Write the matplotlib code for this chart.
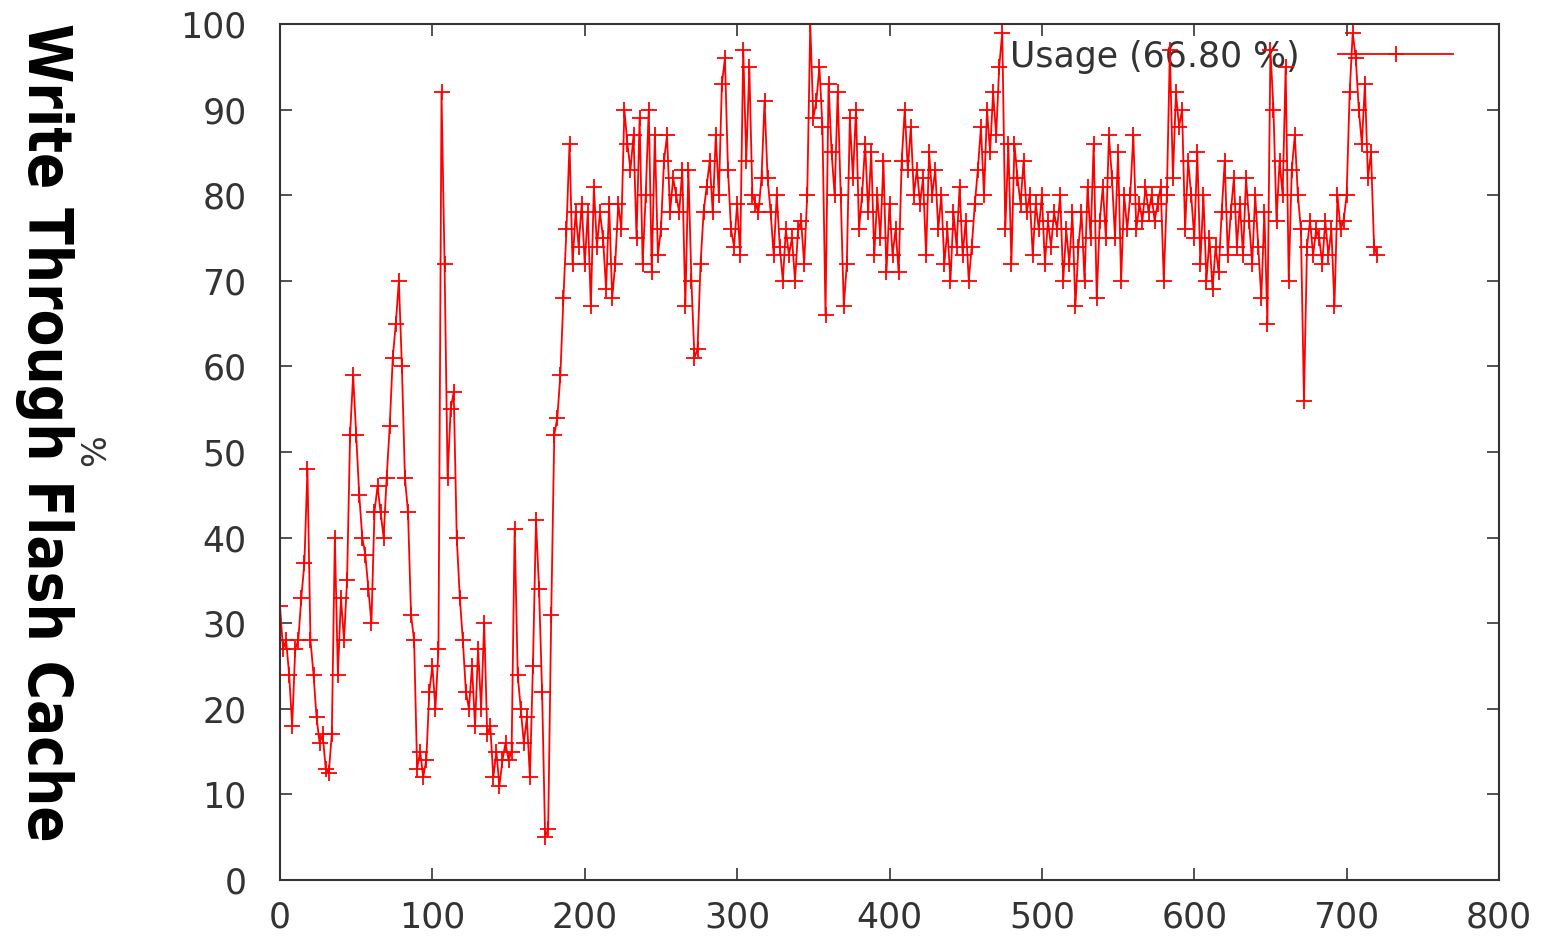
import matplotlib
matplotlib.use('Agg')
import matplotlib.pyplot as plt
import numpy as np

# usage samples every 2 time units
usage = [
    32, 27, 28, 24, 18, 27, 28, 33, 37, 48,      # 0
    28, 24, 19, 16, 17, 13, 12.5, 17, 40, 24,    # 20
    33, 28, 35, 52, 59, 52, 45, 40, 38, 34,      # 40
    30, 43, 46, 43, 40, 47, 53, 61, 65, 70,      # 60
    60, 47, 43, 31, 28, 13, 15, 12, 14, 22,      # 80
    25, 20, 27, 92, 72, 47, 55, 57, 40, 33,      # 100
    28, 22, 20, 25, 18, 27, 20, 30, 17, 18,      # 120
    12, 15, 11, 14, 16, 14, 15, 41, 24, 20,      # 140
    16, 19, 12, 25, 42, 34, 22, 5, 6, 31,        # 160
    52, 54, 59, 68, 76, 86, 72, 78, 74, 79,      # 180
    72, 78, 67, 81, 74, 78, 75, 69, 79, 68,      # 200
    72, 79, 76, 90, 86, 83, 87, 75, 89, 72,      # 220
    80, 90, 71, 87, 73, 76, 84, 87, 78, 82,      # 240
    80, 78, 83, 67, 83, 70, 61, 62, 72, 78,      # 260
    81, 84, 78, 87, 80, 93, 96, 83, 76, 74,      # 280
    79, 73, 97, 84, 95, 80, 79, 78, 82, 91,      # 300
    82, 78, 73, 80, 74, 70, 76, 73, 75, 70,      # 320
    76, 77, 72, 80, 100, 89, 91, 95, 88, 66,     # 340
    93, 85, 80, 92, 80, 67, 72, 89, 82, 90,      # 360
    76, 80, 86, 78, 85, 73, 80, 75, 84, 71,      # 380
    79, 73, 76, 71, 84, 90, 83, 88, 80, 83,      # 400
    79, 82, 73, 85, 80, 83, 76, 80, 72, 76,      # 420
    70, 78, 74, 81, 73, 77, 70, 74, 79, 83,      # 440
    88, 80, 90, 85, 92, 87, 95, 99, 76, 86,      # 460
    72, 86, 82, 79, 84, 78, 80, 73, 79, 76,      # 480
    80, 72, 77, 74, 78, 76, 80, 70, 76, 72,      # 500
    78, 67, 74, 78, 70, 81, 75, 86, 68, 77,      # 520
    81, 75, 87, 82, 75, 85, 70, 80, 76, 80,      # 540
    87, 76, 79, 77, 81, 78, 80, 77, 79, 81,      # 560
    70, 80, 97, 82, 92, 88, 90, 76, 84, 80,      # 580
    75, 85, 72, 80, 70, 75, 69, 74, 71, 78,      # 600
    84, 73, 78, 82, 74, 79, 73, 82, 77, 72,      # 620
    80, 74, 68, 78, 65, 97, 90, 77, 84, 80,      # 640
    95, 70, 83, 87, 80, 76, 56, 74, 77, 73,      # 660
    76, 75, 72, 77, 73, 76, 67, 80, 76, 77,      # 680
    80, 92, 99, 96, 90, 86, 93, 82, 85, 74,      # 700
    73,                                          # 720
]
t = np.arange(0, 2 * len(usage), 2)
mean_usage = 66.80

xticks = [0, 100, 200, 300, 400, 500, 600, 700, 800]
yticks = [0, 10, 20, 30, 40, 50, 60, 70, 80, 90, 100]

fig = plt.figure(figsize=(15.41, 9.44), dpi=100)
ax = fig.add_axes([280 / 1541, 64 / 944, 1219 / 1541, 856 / 944])

line, = ax.plot(t, usage, color='red', linewidth=1.3, marker='+',
                markersize=12, markeredgewidth=1.3,
                label='Usage (%.2f %%)' % mean_usage)

ax.set_xlim(0, 800)
ax.set_ylim(0, 100)
ax.set_xticks(xticks)
ax.set_yticks(yticks)

# gnuplot look: ticks inside, mirrored on all sides
ax.tick_params(direction='in', length=8.5, width=1.2, color='#333333',
               labelsize=25, labelcolor='#333333',
               top=True, right=True)
ax.tick_params(axis='y', pad=24)
ax.tick_params(axis='x', pad=15)
for sp in ax.spines.values():
    sp.set_linewidth(1.5)
    sp.set_color('#333333')

leg = ax.legend(loc='upper right', bbox_to_anchor=(0.975, 1.0),
                frameon=False, markerfirst=False, numpoints=1,
                fontsize=25, handlelength=3.3, handletextpad=1.1,
                borderaxespad=0.05)
for txt in leg.get_texts():
    txt.set_color('#333333')
leg.set_zorder(1)

fig.text(96 / 1541, 1 - 450 / 944, '%', rotation=90, fontsize=24,
         color='#333333', ha='center', va='center')
fig.text(44 / 1541, 1 - 432 / 944, 'Write Through Flash Cache',
         rotation=-90, fontsize=43, fontweight='bold',
         fontstretch='condensed', family=['DejaVu Sans'],
         ha='center', va='center')

fig.savefig('out.png', dpi=100)
